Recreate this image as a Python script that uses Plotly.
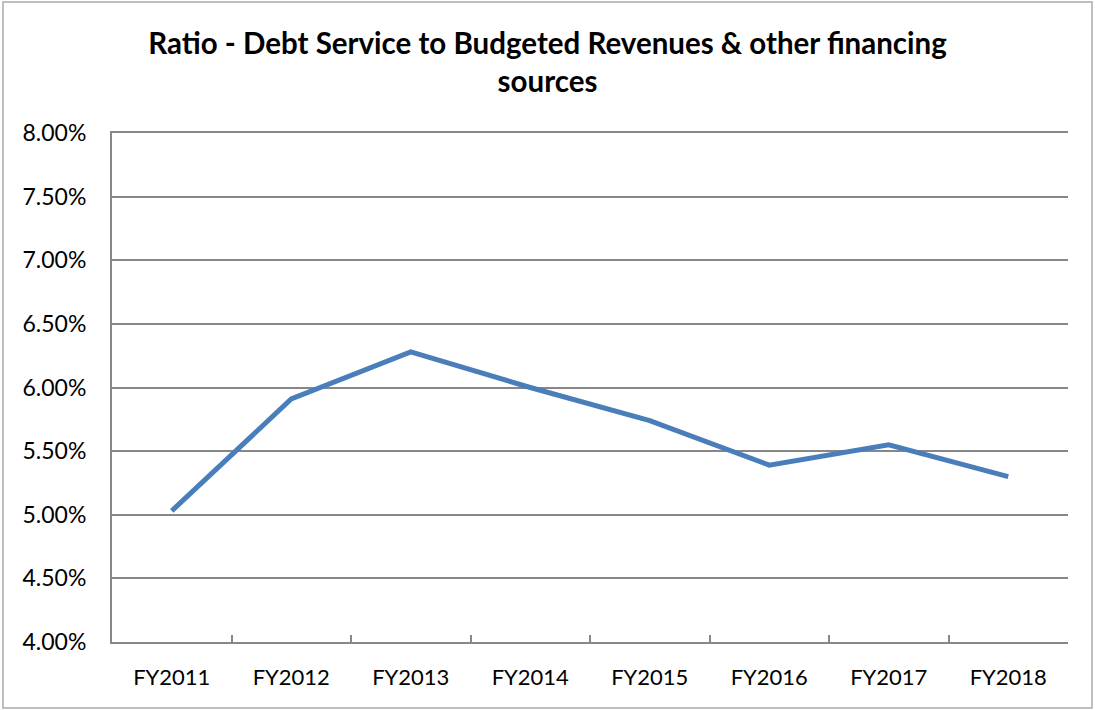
import plotly.graph_objects as go

categories = ["FY2011", "FY2012", "FY2013", "FY2014", "FY2015", "FY2016", "FY2017", "FY2018"]
ratio = [0.0503, 0.0591, 0.0628, 0.0600, 0.0574, 0.0539, 0.0555, 0.0530]
title_text = "Ratio - Debt Service to Budgeted Revenues & other financing<br>sources"

W, H = 1095, 710
L, R, T, B = 112, 1068, 133, 642

fig = go.Figure()
fig.add_trace(go.Scatter(
    x=categories, y=ratio, mode="lines",
    line=dict(color="#4a7ebb", width=5),
    hoverinfo="skip", showlegend=False,
))

grid = "#878787"
font = "Lato, 'Open Sans', sans-serif"

fig.update_layout(
    width=W, height=H,
    margin=dict(l=L, r=W - R, t=T, b=H - B, autoexpand=False),
    paper_bgcolor="white", plot_bgcolor="white",
    title=dict(text=title_text, x=0.5, xref="container", xanchor="center",
               y=1 - 54 / H, yref="container", yanchor="top",
               font=dict(family=font, size=29.5, color="black", weight="bold")),
    font=dict(family=font, color="black", size=22),
    xaxis=dict(
        type="category", range=[-0.5, len(categories) - 0.5],
        showgrid=False, showline=True, linecolor=grid, linewidth=2, mirror=True,
        ticks="inside", tickson="boundaries", ticklen=7, tickwidth=2, tickcolor=grid,
        tickfont=dict(size=22), ticklabelstandoff=15,
    ),
    yaxis=dict(
        range=[0.04, 0.08], dtick=0.005, tick0=0.04, tickformat=".2%",
        showgrid=True, gridcolor=grid, gridwidth=2,
        showline=True, linecolor=grid, linewidth=2,
        zeroline=False, ticks="", tickfont=dict(size=23), ticklabelstandoff=19,
    ),
    shapes=[dict(
        type="rect", xref="paper", yref="paper",
        x0=(3 - L) / (R - L), x1=(1092 - L) / (R - L),
        y0=(B - 708) / (B - T), y1=(B - 2) / (B - T),
        line=dict(color="#bfbfbf", width=2), fillcolor="rgba(0,0,0,0)", layer="below",
    )],
)

fig.write_html("out.html", config={"displayModeBar": False},
               post_script="document.body.style.margin='0';")
